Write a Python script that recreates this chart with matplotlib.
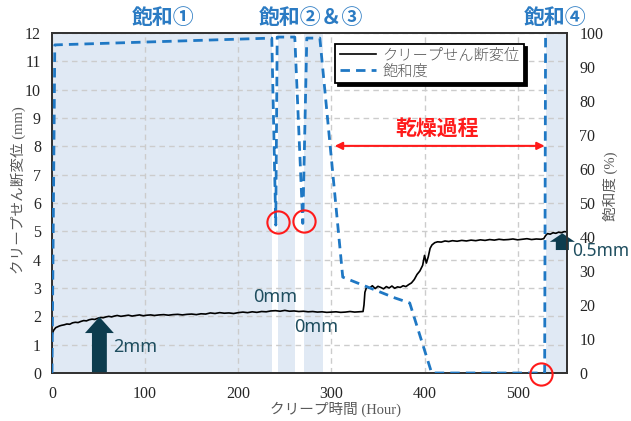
import matplotlib
matplotlib.use("Agg")
import matplotlib.pyplot as plt
from matplotlib.patches import FancyArrow

# ---- data -------------------------------------------------------------
# creep shear displacement (mm) vs. creep time (hour)
creep_points = [
    (0, 0.0), (0.2, 1.35), (1, 1.45), (2, 1.52), (4, 1.60), (6, 1.63), (8, 1.66),
    (10, 1.68), (13, 1.70), (16, 1.73), (19, 1.72), (22, 1.77), (25, 1.79),
    (28, 1.78), (31, 1.82), (34, 1.85), (37, 1.84), (40, 1.88), (43, 1.90),
    (46, 1.89), (49, 1.93), (52, 1.96), (55, 1.95), (58, 1.98), (61, 2.00),
    (64, 1.98), (67, 2.01), (70, 2.03), (74, 2.00), (78, 2.02), (82, 2.04),
    (86, 2.01), (90, 2.03), (94, 2.05), (98, 2.02), (102, 2.04), (106, 2.05),
    (110, 2.03), (115, 2.05), (120, 2.06), (125, 2.04), (130, 2.06), (135, 2.07),
    (140, 2.05), (145, 2.07), (150, 2.08), (155, 2.06), (160, 2.09), (165, 2.08),
    (170, 2.12), (175, 2.10), (180, 2.13), (185, 2.11), (190, 2.12), (195, 2.10),
    (200, 2.13), (205, 2.15), (210, 2.13), (215, 2.16), (220, 2.14), (225, 2.17),
    (230, 2.16), (235, 2.19), (240, 2.20), (245, 2.18), (250, 2.21), (255, 2.18),
    (260, 2.19), (265, 2.17), (270, 2.18), (275, 2.16), (280, 2.17), (285, 2.15),
    (290, 2.16), (295, 2.14), (300, 2.15), (305, 2.16), (310, 2.14), (315, 2.15),
    (320, 2.17), (325, 2.15), (330, 2.16), (334, 2.17), (335, 2.40), (336, 2.85),
    (338, 3.05), (341, 3.00), (344, 3.08), (347, 2.98), (350, 3.06), (353, 3.02),
    (356, 2.97), (359, 3.05), (362, 3.00), (365, 3.07), (368, 2.99), (371, 3.04),
    (374, 3.02), (377, 3.08), (380, 3.05), (383, 3.12), (386, 3.18), (389, 3.30),
    (392, 3.48), (395, 3.60), (398, 3.80), (400, 4.15), (402, 3.88), (404, 4.10),
    (406, 4.40), (408, 4.52), (411, 4.60), (414, 4.63), (418, 4.62), (422, 4.66),
    (426, 4.64), (430, 4.67), (435, 4.65), (440, 4.68), (445, 4.66), (450, 4.69),
    (455, 4.67), (460, 4.70), (465, 4.68), (470, 4.71), (475, 4.69), (480, 4.72),
    (485, 4.70), (490, 4.71), (495, 4.73), (500, 4.70), (505, 4.72), (510, 4.74),
    (515, 4.71), (520, 4.73), (525, 4.72), (528, 4.74), (530, 4.85), (532, 4.92),
    (535, 4.90), (538, 4.95), (541, 4.93), (544, 4.97), (547, 4.95), (550, 4.99),
    (553, 4.98),
]

# degree of saturation (%) vs. creep time (hour)
sat_hours = [0, 3, 236, 240.3, 241.8, 260.7, 269.3, 273.6, 287.6, 312.2, 368,
             384.1, 407.7, 529, 530]
sat_values = [0, 96.5, 98.5, 43.5, 98.8, 98.8, 44.0, 98.5, 98.5, 28.2, 22.1,
              20.6, 0, 0, 100]

# saturated periods (shaded)
saturated_spans = [(0, 236.5), (243, 261), (271, 291), (530, 553)]

# dips in saturation marked with circles (hour, %)
circle_hours = [242.5, 270.7, 524.7]
circle_sat = [44.4, 44.6, -0.3]

# drying period (hour)
drying_start, drying_end = 303.6, 529.0

# displacement increments (hour position, from, to)
inc_2mm = (50.9, 0.0, 2.0)
inc_05mm = (548.0, 4.34, 4.93)

x_ticks = [0, 100, 200, 300, 400, 500]
y_ticks = list(range(0, 13))
y2_ticks = list(range(0, 101, 10))

# ---- style ------------------------------------------------------------
serif_jp = ["Liberation Serif", "Noto Sans CJK JP"]
jp = ["Noto Sans CJK JP", "DejaVu Sans"]
plt.rcParams["font.family"] = serif_jp

label_gray = "#595959"
blue = "#1f78c4"
title_blue = "#2b7bc3"
teal = "#1f4e5f"
arrow_teal = "#0d3c4e"
shade = "#e0e9f4"

fig = plt.figure(figsize=(6.31, 4.21), dpi=100)
ax = fig.add_axes([52 / 631, 48 / 421, 515 / 631, 340 / 421])
ax2 = ax.twinx()

ax.set_xlim(0, 553)
ax.set_ylim(0, 12)
ax2.set_ylim(0, 100)

for a, b in saturated_spans:
    ax.axvspan(a, b, color=shade, lw=0, zorder=0)

ax.set_axisbelow(True)
ax.grid(True, ls=(0, (4, 3)), color="#cccccc", lw=1.0, zorder=1)

ch = [p[0] for p in creep_points]
cv = [p[1] for p in creep_points]
l1, = ax.plot(ch, cv, color="black", lw=1.2, zorder=3)
l2, = ax2.plot(sat_hours, sat_values, color=blue, lw=2.0, ls=(0, (3.4, 2.2)),
               zorder=3)

# red circles on the saturation curve
ax2.plot(circle_hours, circle_sat, ls="none", marker="o", ms=16, mfc="none",
         mec="#ff1a1a", mew=1.5, clip_on=False, zorder=6)

# drying period arrow
ax2.annotate("", xy=(drying_start, 66.8), xytext=(drying_end, 66.8),
             arrowprops=dict(arrowstyle="<|-|>", color="#ff1a1a", lw=1.5,
                             mutation_scale=11, shrinkA=0, shrinkB=0))
ax2.text((drying_start + drying_end) / 2 - 3, 72.0, "乾燥過程", color="#ff1a1a",
         fontsize=15, fontweight="bold", family=jp, ha="center", va="center")

# displacement increment arrows
x0, y0, y1 = inc_2mm
ax.add_patch(FancyArrow(x0, y0, 0, y1 - y0 - 0.02, width=16, head_width=31,
                        head_length=0.57, length_includes_head=True,
                        color=arrow_teal, lw=0, zorder=5))
x0, y0, y1 = inc_05mm
ax.add_patch(FancyArrow(x0, y0, 0, y1 - y0, width=14, head_width=27,
                        head_length=0.3, length_includes_head=True,
                        color=arrow_teal, lw=0, zorder=5, clip_on=False))

ann_font = ["Noto Sans"]
ax.text(89, 0.92, "2mm", color=teal, fontsize=13, family=ann_font,
        ha="center", va="center")
ax.text(240, 2.68, "0mm", color=teal, fontsize=13, family=ann_font,
        ha="center", va="center")
ax.text(284, 1.62, "0mm", color=teal, fontsize=13, family=ann_font,
        ha="center", va="center")
ax.text(559, 4.3, "0.5mm", color=teal, fontsize=12.5, family=ann_font,
        ha="left", va="center", clip_on=False, zorder=7)

# saturation stage titles
for xc, txt in [(163, "飽和①"), (311, "飽和②＆③"), (555, "飽和④")]:
    fig.text(xc / 631, 1 - 18 / 421, txt, color=title_blue, fontsize=15,
             fontweight="bold", family=jp, ha="center", va="center")

# axes, ticks and labels
ax.set_xticks(x_ticks)
ax.set_yticks(y_ticks)
ax2.set_yticks(y2_ticks)
for a in (ax, ax2):
    a.tick_params(length=0, labelsize=11.5, colors="#262626")
ax.tick_params(axis="x", pad=9)
ax.tick_params(axis="y", pad=8)
ax2.tick_params(axis="y", pad=9)

for a in (ax, ax2):
    for s in a.spines.values():
        s.set_color("#333333")
        s.set_linewidth(1.3)

ax.set_xlabel("クリープ時間 (Hour)", fontsize=10.5, color=label_gray)
ax.set_ylabel("クリープせん断変位 (mm)", fontsize=10.5, color=label_gray)
ax2.set_ylabel("飽和度 (%)", fontsize=10.5, color=label_gray)
ax.xaxis.set_label_coords(0.551, -0.085)
ax.yaxis.set_label_coords(-0.05, 0.538)
ax2.yaxis.set_label_coords(1.07, 0.55)

leg = ax2.legend([l1, l2], ["クリープせん断変位", "飽和度"], loc="upper left",
                 bbox_to_anchor=(0.5495, 0.968), borderaxespad=0,
                 prop={"family": jp, "size": 11, "weight": "light"},
                 handlelength=2.4, fancybox=False, frameon=True,
                 edgecolor="black", shadow={"color": "black", "alpha": 1.0},
                 labelspacing=0.1, borderpad=0.3, handletextpad=0.4)
leg.get_frame().set_linewidth(1.3)
for t in leg.get_texts():
    t.set_color(label_gray)
leg.set_zorder(10)

fig.savefig("out.png", dpi=100)
